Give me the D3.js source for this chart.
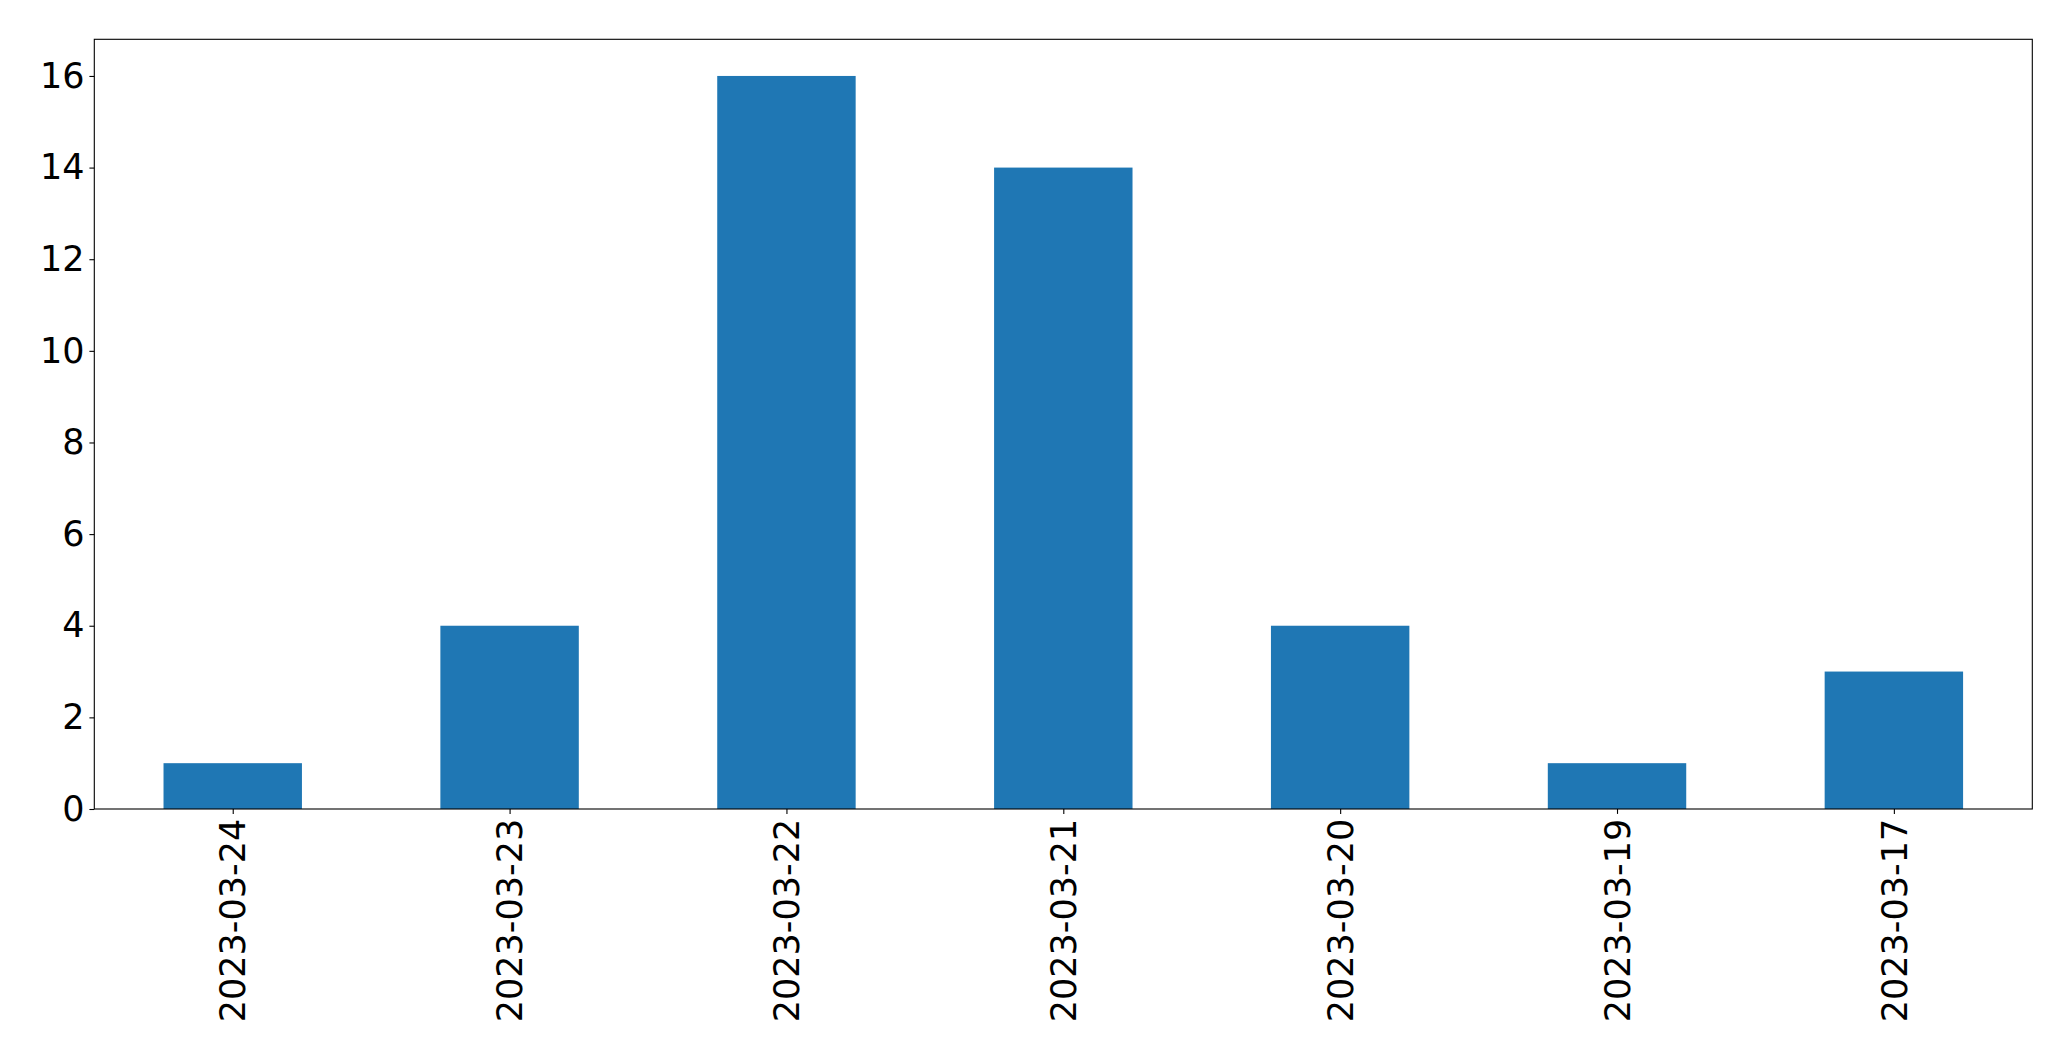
<!DOCTYPE html>
<html><head><meta charset="utf-8">
<script src="https://cdn.jsdelivr.net/npm/d3@7"></script>
<style>body{margin:0;background:#fff}svg{display:block}</style>
</head><body>
<script>
const categories = ["2023-03-24","2023-03-23","2023-03-22","2023-03-21","2023-03-20","2023-03-19","2023-03-17"];
const counts = [1,4,16,14,4,1,3];
const yTicks = [0,2,4,6,8,10,12,14,16];

const W = 2071, H = 1061;
const m = {left: 94.3, right: 2071-2032.3, top: 39.3, bottom: H-809};
const iw = W - m.left - m.right, ih = H - m.top - m.bottom;
const fontSize = 35;

const svg = d3.select("body").append("svg").attr("width", W).attr("height", H);
const g = svg.append("g").attr("transform", `translate(${m.left},${m.top})`);

const x = d3.scaleLinear().domain([-0.5, categories.length - 0.5]).range([0, iw]);
const y = d3.scaleLinear().domain([0, 16.8]).range([ih, 0]);

g.selectAll("rect.bar").data(counts).join("rect").attr("class","bar")
  .attr("x", (d,i) => x(i - 0.25)).attr("width", x(0.25) - x(-0.25))
  .attr("y", d => y(d)).attr("height", d => y(0) - y(d))
  .attr("fill", "#1f77b4");

const xAxis = g.append("g").attr("transform", `translate(0,${ih})`)
  .call(d3.axisBottom(x).tickValues(d3.range(categories.length)).tickFormat(i => categories[i]).tickSize(4.9).tickPadding(4.9));
xAxis.selectAll("text")
  .attr("transform", "rotate(-90)")
  .attr("text-anchor", "end").attr("dy", "0.35em")
  .attr("x", -9.8).attr("y", 0);

const yAxis = g.append("g").call(d3.axisLeft(y).tickValues(yTicks).tickSize(4.9).tickPadding(4.9));

[xAxis, yAxis].forEach(a => {
  a.select(".domain").remove();
  a.selectAll("line").attr("stroke", "#000").attr("stroke-width", 1.1);
  a.selectAll("text").attr("fill", "#000").style("font-family", "DejaVu Sans").style("font-size", fontSize + "px");
});

g.append("rect").attr("x",0).attr("y",0).attr("width",iw).attr("height",ih)
  .attr("fill","none").attr("stroke","#000").attr("stroke-width",1.1);
</script>
</body></html>
